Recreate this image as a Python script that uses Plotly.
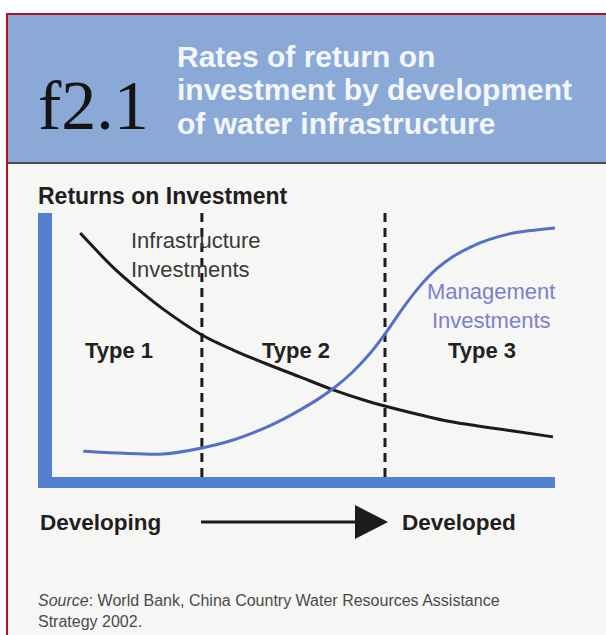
import plotly.graph_objects as go

W, H = 606, 635

# development stage (0-100 along the x axis) vs returns (0-100 up the y axis)
infra_x = [5.6, 12.1, 17.5, 22.1, 29.8, 36.0, 42.7, 49.3, 55.9, 62.6, 69.2, 78.5, 91.7, 99.6]
infra_y = [92.4, 79.5, 70.5, 63.6, 53.8, 48.1, 42.8, 37.9, 33.0, 28.8, 25.4, 21.2, 17.4, 15.2]

mgmt_x = [6.2, 13.5, 22.1, 29.8, 36.0, 42.7, 46.1, 49.5, 52.9, 56.3, 59.6, 63.0, 66.4, 69.8,
          73.2, 76.5, 79.9, 83.3, 86.7, 91.7, 100.0]
mgmt_y = [9.8, 9.1, 8.7, 11.0, 14.0, 18.9, 22.0, 25.6, 29.5, 34.1, 39.5, 46.3, 54.7, 64.1,
          72.4, 78.9, 83.7, 87.2, 89.8, 92.4, 94.3]

stage_bounds = [29.8, 66.2]
stage_labels = ["Type 1", "Type 2", "Type 3"]
stage_label_x = [13.3, 48.5, 85.5]
stage_label_y = 48.1

title_lines = ["Rates of return on", "investment by development", "of water infrastructure"]


def px(x):
    return x / W


def py(y):
    return 1 - y / H


fig = go.Figure()

fig.add_trace(go.Scatter(x=infra_x, y=infra_y, mode="lines", hoverinfo="skip",
                         line=dict(color="#1c1c1c", width=3, shape="spline", smoothing=0.8)))
fig.add_trace(go.Scatter(x=mgmt_x, y=mgmt_y, mode="lines", hoverinfo="skip",
                         line=dict(color="#5570C6", width=3, shape="spline", smoothing=0.8)))

shapes = []
# page background pieces
shapes.append(dict(type="rect", xref="paper", yref="paper", x0=px(8), x1=1, y0=0, y1=py(163),
                   fillcolor="#F6F6F5", line_width=0, layer="below"))
shapes.append(dict(type="rect", xref="paper", yref="paper", x0=px(8), x1=1, y0=py(162), y1=py(15),
                   fillcolor="#8AA9D7", line_width=0, layer="below"))
shapes.append(dict(type="line", xref="paper", yref="paper", x0=px(8), x1=1, y0=py(163), y1=py(163),
                   line=dict(color="#4d4d4d", width=2), layer="below"))
shapes.append(dict(type="line", xref="paper", yref="paper", x0=px(7), x1=px(7), y0=0, y1=py(13),
                   line=dict(color="#B5141C", width=2), layer="below"))
shapes.append(dict(type="line", xref="paper", yref="paper", x0=px(6), x1=1, y0=py(14), y1=py(14),
                   line=dict(color="#B5141C", width=2), layer="below"))

# stage boundaries
for b in stage_bounds:
    shapes.append(dict(type="line", xref="x", yref="y domain", x0=b, x1=b, y0=0, y1=1.005,
                       line=dict(color="#1c1c1c", width=3, dash="9px,6px"), layer="below"))

# development arrow
shapes.append(dict(type="line", xref="paper", yref="paper", x0=px(201), x1=px(358), y0=py(522), y1=py(522),
                   line=dict(color="#1c1c1c", width=3)))
shapes.append(dict(type="path", xref="paper", yref="paper",
                   path=f"M {px(355)} {py(505)} L {px(388)} {py(522)} L {px(355)} {py(539)} Z",
                   fillcolor="#1c1c1c", line_width=0))

annotations = []
annotations.append(dict(text="f2.1", xref="paper", yref="paper", x=px(36), y=py(105),
                        xanchor="left", yanchor="middle", showarrow=False,
                        font=dict(family="Liberation Serif", size=70, color="#141414")))
for i, line in enumerate(title_lines):
    annotations.append(dict(text=f"<b>{line}</b>", xref="paper", yref="paper", x=px(175), y=py(56 + 33.5 * i),
                            xanchor="left", yanchor="middle", showarrow=False,
                            font=dict(family="Liberation Sans", size=30, color="#F3F6FB")))

annotations.append(dict(text="<b>Returns on Investment</b>", xref="paper", yref="paper", x=px(36), y=py(196),
                        xanchor="left", yanchor="middle", showarrow=False,
                        font=dict(family="Liberation Sans", size=23, color="#1f1f1f")))

for lab, lx in zip(stage_labels, stage_label_x):
    annotations.append(dict(text=f"<b>{lab}</b>", x=lx, y=stage_label_y, xref="x", yref="y",
                            showarrow=False, font=dict(family="Liberation Sans", size=22, color="#222222")))

annotations.append(dict(text="Infrastructure<br>Investments", x=15.3, y=84.1, xref="x", yref="y",
                        xanchor="left", yanchor="middle", align="left", showarrow=False,
                        font=dict(family="Liberation Sans", size=22, color="#3a3a3a")))
annotations.append(dict(text="Management<br>Investments", x=87.3, y=64.8, xref="x", yref="y",
                        xanchor="center", yanchor="middle", align="center", showarrow=False,
                        font=dict(family="Liberation Sans", size=22, color="#7C80CC")))

annotations.append(dict(text="<b>Developing</b>", xref="paper", yref="paper", x=px(38), y=py(522),
                        xanchor="left", yanchor="middle", showarrow=False,
                        font=dict(family="Liberation Sans", size=22.5, color="#1f1f1f")))
annotations.append(dict(text="<b>Developed</b>", xref="paper", yref="paper", x=px(400), y=py(522),
                        xanchor="left", yanchor="middle", showarrow=False,
                        font=dict(family="Liberation Sans", size=22.5, color="#1f1f1f")))
annotations.append(dict(text="<i>Source</i>: World Bank, China Country Water Resources Assistance<br>Strategy 2002.",
                        xref="paper", yref="paper", x=px(36), y=py(611),
                        xanchor="left", yanchor="middle", align="left", showarrow=False,
                        font=dict(family="Liberation Sans", size=16, color="#4a4a4a")))

fig.update_layout(
    width=W, height=H,
    margin=dict(l=0, r=0, t=0, b=0),
    paper_bgcolor="white",
    plot_bgcolor="rgba(0,0,0,0)",
    showlegend=False,
    shapes=shapes,
    annotations=annotations,
    xaxis=dict(domain=[px(52), px(555)], range=[0, 100], showline=True, linewidth=11, linecolor="#5381CF",
               showgrid=False, zeroline=False, showticklabels=False, ticks="", fixedrange=True),
    yaxis=dict(domain=[py(477), py(213)], range=[0, 100], showline=True, linewidth=14, linecolor="#5381CF",
               showgrid=False, zeroline=False, showticklabels=False, ticks="", fixedrange=True),
)

# drop the default body margin so the figure sits flush in the window
fig.write_html("out.html", config=dict(displayModeBar=False),
               post_script="document.body.style.margin='0';")
